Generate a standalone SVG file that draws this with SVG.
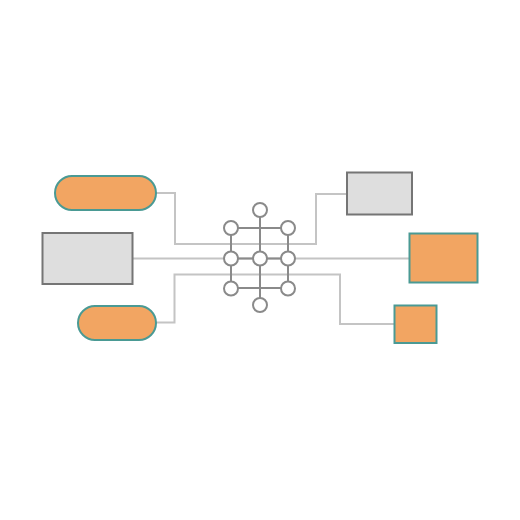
<svg xmlns="http://www.w3.org/2000/svg" width="520" height="520" viewBox="0 0 520 520">
<style>
.c{fill:none;stroke:#c4c4c4;stroke-width:2}
.o{fill:#f2a562;stroke:#4a9a94;stroke-width:2}
.g{fill:#dedede;stroke:#757575;stroke-width:2}
.gl{stroke:#8a8a8a;stroke-width:2;fill:none}
.n{fill:#fff;stroke:#8a8a8a;stroke-width:2}
</style>
<rect width="520" height="520" fill="#fff"/>
<g id="connectors">
<path class="c" d="M156,193 H175 V244 H316 V194 H347"/>
<path class="c" d="M133,258.5 H409"/>
<path class="c" d="M156,322.5 H174.5 V274.5 H340 V324 H394"/>
</g>
<g id="hub">
<path class="gl" d="M260,210 V304 M231,228 H288 M231,258.5 H288 M231,288 H288 M231,228 V288 M288,228 V288"/>
<circle class="n" cx="260" cy="210" r="7"/>
<circle class="n" cx="231" cy="228" r="7"/>
<circle class="n" cx="288" cy="228" r="7"/>
<circle class="n" cx="231" cy="258.5" r="7"/>
<circle class="n" cx="260" cy="258.5" r="7"/>
<circle class="n" cx="288" cy="258.5" r="7"/>
<circle class="n" cx="231" cy="288.5" r="7"/>
<circle class="n" cx="288" cy="288.5" r="7"/>
<circle class="n" cx="260" cy="305" r="7"/>
</g>
<g id="pill-top"><rect class="o" x="55" y="176" width="101" height="34" rx="17"/></g>
<g id="box-left"><rect class="g" x="42.5" y="233" width="90" height="51"/></g>
<g id="pill-bottom"><rect class="o" x="78" y="306" width="78" height="34" rx="17"/></g>
<g id="box-top-right"><rect class="g" x="347" y="172.5" width="65" height="42"/></g>
<g id="box-right"><rect class="o" x="409.5" y="233.5" width="68" height="49"/></g>
<g id="box-bottom-right"><rect class="o" x="394.5" y="305.5" width="42" height="37.5"/></g>
</svg>
